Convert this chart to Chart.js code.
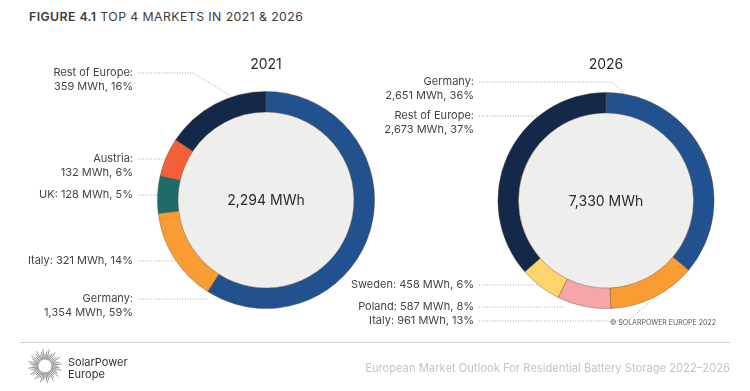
<!DOCTYPE html>
<html><head><meta charset="utf-8">
<script src="https://cdn.jsdelivr.net/npm/chart.js@4.4.1/dist/chart.umd.min.js"></script>
<style>
html,body{margin:0;padding:0;background:#fff;width:750px;height:391px;overflow:hidden;font-family:Inter,'Open Sans',sans-serif}
canvas.cv{position:absolute;left:0;top:0;width:750px;height:391px}
#title{position:absolute;left:29px;top:9px;font-size:12.3px;color:#3b3b3b;letter-spacing:0.42px;white-space:nowrap}
#title b{font-weight:600}
#copy{position:absolute;right:34px;top:318px;font-size:7px;color:#555}
#rule{position:absolute;left:20px;top:342px;width:710px;height:1px;background:#d4d4d4}
#brand{position:absolute;left:68px;top:356px;font-size:11px;line-height:12px;color:#333}
#pub{position:absolute;right:20px;top:361px;font-size:11.2px;color:#c4c4c4;white-space:nowrap}
#logo{position:absolute;left:25px;top:346px}
</style></head>
<body>
<div id="title"><b>FIGURE 4.1</b> TOP 4 MARKETS IN 2021 &amp; 2026</div>
<canvas id="c1" class="cv" width="750" height="391"></canvas>
<canvas id="c2" class="cv" width="750" height="391"></canvas>
<div id="copy">© SOLARPOWER EUROPE 2022</div>
<div id="rule"></div>
<canvas id="logo" width="40" height="40"></canvas>
<div id="brand">SolarPower<br>Europe</div>
<div id="pub">European Market Outlook For Residential Battery Storage 2022–2026</div>
<script>
// ---- data ----
const years = ['2021', '2026'];
const cats2021 = ['Germany', 'Italy', 'UK', 'Austria', 'Rest of Europe'];
const vals2021 = [1354, 321, 128, 132, 359];
const pcts2021 = [59, 14, 5, 6, 16];
const cats2026 = ['Germany', 'Italy', 'Poland', 'Sweden', 'Rest of Europe'];
const vals2026 = [2651, 961, 587, 458, 2673];
const pcts2026 = [36, 13, 8, 6, 37];
const totals = [2294, 7330];

// ---- styles ----
const colorOf = {
  'Germany': '#21528f', 'Italy': '#f99c34', 'UK': '#1f6b68', 'Austria': '#f35f36',
  'Rest of Europe': '#14284a', 'Poland': '#f6a6a8', 'Sweden': '#fed46c'
};
const fmt = v => v.toLocaleString('en-US');

// label layout (positions only)
const layout2021 = {
  textRight: 133, lineStart: 138,
  items: {
    'Rest of Europe': {y: 73, two: true, bendX: 193, frac: 0.67},
    'Austria': {y: 159, two: true},
    'UK': {y: 195},
    'Italy': {y: 261},
    'Germany': {y: 299, two: true, endX: 208}
  }
};
const layout2026 = {
  textRight: 474, lineStart: 479,
  items: {
    'Germany': {y: 82, two: true, bendX: 612, frac: 0.07},
    'Rest of Europe': {y: 116, two: true},
    'Sweden': {y: 285},
    'Poland': {y: 307, endX: 565},
    'Italy': {y: 321, bendX: 628, frac: 0.5}
  }
};

function labelPlugin(cats, vals, pcts, total, year, lay) {
  return {
    id: 'lbl' + year,
    beforeDatasetsDraw(chart) {
      const arc = chart.getDatasetMeta(0).data[0];
      const ctx = chart.ctx;
      ctx.save();
      ctx.beginPath();
      ctx.arc(arc.x, arc.y, arc.innerRadius, 0, Math.PI * 2);
      ctx.fillStyle = '#eeefec';
      ctx.fill();
      ctx.restore();
    },
    afterDraw(chart) {
      const meta = chart.getDatasetMeta(0);
      const ctx = chart.ctx;
      const a0 = meta.data[0];
      const cx = a0.x, cy = a0.y, R = a0.outerRadius;
      ctx.save();
      ctx.fillStyle = '#2b2b2b';
      ctx.textAlign = 'center';
      ctx.textBaseline = 'middle';
      ctx.font = '14px Inter, sans-serif';
      ctx.fillText(year, cx, 65);
      ctx.font = '14px Inter, sans-serif';
      ctx.fillText(fmt(total) + ' MWh', cx, cy + 1);
      ctx.font = '11px Inter, sans-serif';
      cats.forEach((c, i) => {
        const it = lay.items[c];
        const el = meta.data[i];
        ctx.fillStyle = '#444';
        ctx.textAlign = 'right';
        const l2 = fmt(vals[i]) + ' MWh, ' + pcts[i] + '%';
        if (it.two) {
          ctx.fillText(c + ':', lay.textRight, it.y);
          ctx.fillText(l2, lay.textRight, it.y + 14);
        } else {
          ctx.fillText(c + ': ' + l2, lay.textRight, it.y);
        }
        ctx.beginPath();
        ctx.setLineDash([1, 1.6]);
        ctx.strokeStyle = '#9a9a9a';
        ctx.lineWidth = 0.9;
        ctx.moveTo(lay.lineStart, it.y);
        if (it.bendX !== undefined) {
          ctx.lineTo(it.bendX, it.y);
          const ang = el.startAngle + (el.endAngle - el.startAngle) * it.frac;
          ctx.lineTo(cx + Math.cos(ang) * (R + 1), cy + Math.sin(ang) * (R + 1));
        } else {
          let ex = it.endX;
          if (ex === undefined) {
            const dy = it.y - cy;
            ex = cx - Math.sqrt(Math.max(R * R - dy * dy, 0));
          }
          ctx.lineTo(ex, it.y);
        }
        ctx.stroke();
      });
      ctx.restore();
    }
  };
}

function makeChart(id, cats, vals, pcts, total, year, lay, pad) {
  return new Chart(document.getElementById(id), {
    type: 'doughnut',
    data: {
      labels: cats,
      datasets: [{
        data: vals,
        backgroundColor: cats.map(c => colorOf[c]),
        borderColor: 'rgba(110,80,50,0.55)',
        borderWidth: 0.8
      }]
    },
    options: {
      responsive: false,
      animation: false,
      cutout: '81%',
      layout: {padding: pad},
      plugins: {legend: {display: false}, tooltip: {enabled: false}}
    },
    plugins: [labelPlugin(cats, vals, pcts, total, year, lay)]
  });
}

makeChart('c1', cats2021, vals2021, pcts2021, totals[0], years[0], layout2021,
  {left: 157, right: 375, top: 91, bottom: 82});
makeChart('c2', cats2026, vals2026, pcts2026, totals[1], years[1], layout2026,
  {left: 497, right: 35, top: 92, bottom: 82});

// decorative logo sunburst
(function () {
  const c = document.getElementById('logo').getContext('2d');
  c.strokeStyle = '#666';
  c.lineWidth = 0.7;
  const n = 48;
  for (let k = 0; k < n; k++) {
    const a = k / n * Math.PI * 2;
    const r1 = 6.5, r2 = 12.5 + (k % 3) * 2.3;
    c.beginPath();
    c.moveTo(20 + Math.cos(a) * r1, 20 + Math.sin(a) * r1);
    c.lineTo(20 + Math.cos(a) * r2, 20 + Math.sin(a) * r2);
    c.stroke();
  }
})();
</script>
</body></html>
